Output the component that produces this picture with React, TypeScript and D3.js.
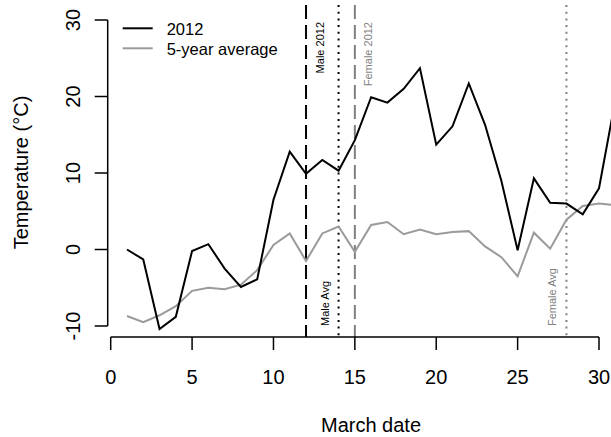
import React from "react";
import * as d3 from "d3";

// March dates and daily temperatures (°C)
const days = [
  1, 2, 3, 4, 5, 6, 7, 8, 9, 10, 11, 12, 13, 14, 15, 16, 17, 18, 19, 20, 21,
  22, 23, 24, 25, 26, 27, 28, 29, 30, 31,
];
const temp2012 = [
  0, -1.3, -10.4, -8.8, -0.2, 0.7, -2.5, -4.9, -3.9, 6.5, 12.8, 9.9, 11.7,
  10.3, 14.3, 19.9, 19.2, 21.0, 23.7, 13.7, 16.1, 21.7, 16.3, 9.0, -0.1, 9.3,
  6.1, 6.0, 4.6, 8.0, 19.5,
];
const tempAvg = [
  -8.7, -9.5, -8.6, -7.4, -5.4, -5.0, -5.2, -4.6, -2.7, 0.6, 2.1, -1.5, 2.1,
  3.0, -0.3, 3.2, 3.6, 2.0, 2.6, 2.0, 2.3, 2.4, 0.4, -1.0, -3.5, 2.2, 0.1,
  3.9, 5.7, 6.0, 5.8,
];

// vertical reference lines
const refNames = ["Male 2012", "Male Avg", "Female 2012", "Female Avg"];
const refDays = [12, 14, 15, 28];
const refLabelX = [13.11, 13.42, 16.04, 27.34];
const refLabelTop = [true, false, true, false];

const xTicks = [0, 5, 10, 15, 20, 25, 30];
const yTicks = [-10, 0, 10, 20, 30];
const seriesNames = ["2012", "5-year average"];

const W = 611,
  H = 437;
const plotTop = 5,
  plotBottom = 337,
  plotLeft = 107.7;

const font = "'Liberation Sans', Arial, Helvetica, sans-serif";
const grey = "#9a9a9a";
const refGrey = "#7f7f7f";

export default function App() {
  const x = d3.scaleLinear().domain([0, 30]).range([110.7, 599]);
  const y = d3.scaleLinear().domain([-10, 30]).range([326, 20]);

  const line = d3
    .line<number>()
    .x((d, i) => x(days[i]))
    .y((d) => y(d));

  const refStyle = [
    { stroke: "#000", dash: "14,6" },
    { stroke: "#000", dash: "2,4.7" },
    { stroke: refGrey, dash: "14,6" },
    { stroke: refGrey, dash: "2,4.7" },
  ];

  return (
    <svg
      width={W}
      height={H}
      style={{ position: "absolute", left: 0, top: 0, background: "#fff" }}
      fontFamily={font}
    >
      {/* 参照線 */}
      {refDays.map((d, i) => (
        <g key={refNames[i]}>
          <line
            x1={x(d)}
            x2={x(d)}
            y1={plotTop}
            y2={plotBottom}
            stroke={refStyle[i].stroke}
            strokeWidth={2}
            strokeDasharray={refStyle[i].dash}
          />
          <text
            transform={`translate(${x(refLabelX[i])},${
              refLabelTop[i] ? 22 : 326
            }) rotate(-90)`}
            textAnchor={refLabelTop[i] ? "end" : "start"}
            fontSize={11}
            fill={i < 2 ? "#000" : refGrey}
          >
            {refNames[i]}
          </text>
        </g>
      ))}

      {/* 系列 */}
      <path d={line(tempAvg) ?? ""} fill="none" stroke={grey} strokeWidth={2} />
      <path d={line(temp2012) ?? ""} fill="none" stroke="#000" strokeWidth={2} />

      {/* x軸 */}
      <line
        x1={x(0)}
        x2={x(30)}
        y1={plotBottom}
        y2={plotBottom}
        stroke="#000"
        strokeWidth={1.5}
      />
      {xTicks.map((t) => (
        <g key={t}>
          <line
            x1={x(t)}
            x2={x(t)}
            y1={plotBottom}
            y2={plotBottom + 13}
            stroke="#000"
            strokeWidth={1.5}
          />
          <text x={x(t)} y={383.5} textAnchor="middle" fontSize={20}>
            {t}
          </text>
        </g>
      ))}
      <text x={371} y={432} textAnchor="middle" fontSize={20}>
        March date
      </text>

      {/* y軸 */}
      <line
        x1={plotLeft}
        x2={plotLeft}
        y1={y(-10)}
        y2={y(30)}
        stroke="#000"
        strokeWidth={1.5}
      />
      {yTicks.map((t) => (
        <g key={t}>
          <line
            x1={plotLeft - 13}
            x2={plotLeft}
            y1={y(t)}
            y2={y(t)}
            stroke="#000"
            strokeWidth={1.5}
          />
          <text
            transform={`translate(79.5,${y(t)}) rotate(-90)`}
            textAnchor="middle"
            fontSize={20}
          >
            {t}
          </text>
        </g>
      ))}
      <text
        transform="translate(28,172.5) rotate(-90)"
        textAnchor="middle"
        fontSize={20}
      >
        Temperature (°C)
      </text>

      {/* 凡例 */}
      {seriesNames.map((name, i) => (
        <g key={name}>
          <line
            x1={122.7}
            x2={152.7}
            y1={28.3 + i * 20}
            y2={28.3 + i * 20}
            stroke={i === 0 ? "#000" : grey}
            strokeWidth={2}
          />
          <text x={166.7} y={34.5 + i * 20} fontSize={16.5}>
            {name}
          </text>
        </g>
      ))}
    </svg>
  );
}
